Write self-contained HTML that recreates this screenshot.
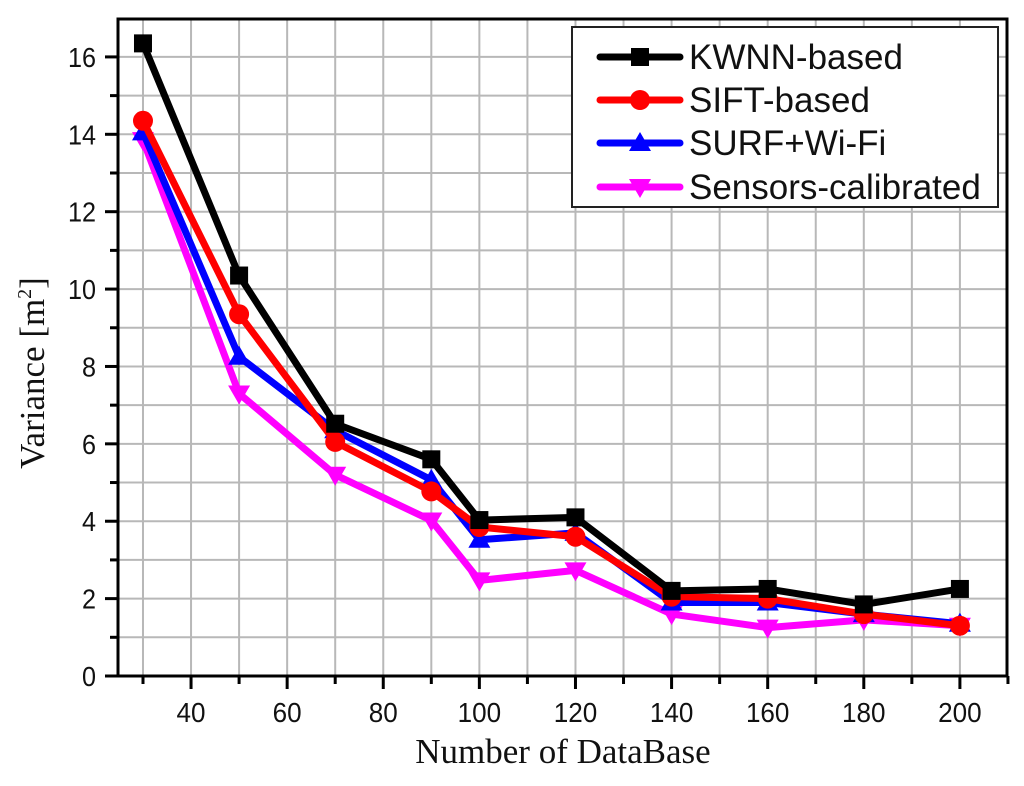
<!DOCTYPE html>
<html><head><meta charset="utf-8"><style>
body{margin:0;background:#fff;}
svg{display:block;}
</style></head><body>
<svg id="chart" width="1024" height="786" xmlns="http://www.w3.org/2000/svg"></svg>
<script>
const xValues=[30,50,70,90,100,120,140,160,180,200];
const seriesNames=["KWNN-based","SIFT-based","SURF+Wi-Fi","Sensors-calibrated"];
const kwnn=[16.35,10.35,6.52,5.6,4.03,4.1,2.2,2.25,1.85,2.25];
const sift=[14.35,9.35,6.05,4.77,3.85,3.6,2.05,2.0,1.6,1.3];
const surf=[14.05,8.25,6.35,5.07,3.52,3.7,1.9,1.9,1.6,1.35];
const sensors=[13.85,7.3,5.2,4.02,2.47,2.73,1.6,1.25,1.45,1.3];
const xTickLabels=[40,60,80,100,120,140,160,180,200];
const yTickLabels=[0,2,4,6,8,10,12,14,16];

const NS="http://www.w3.org/2000/svg";
const svg=document.getElementById('chart');
const L=118,R=1007,T=19,B=676;
const xMin=24.8,xMax=209.8,yMin=0,yMax=16.98;
const sx=v=>L+(v-xMin)/(xMax-xMin)*(R-L);
const sy=v=>B-(v-yMin)/(yMax-yMin)*(B-T);
function mk(tag,attrs,parent){const e=document.createElementNS(NS,tag);for(const k in attrs)e.setAttribute(k,attrs[k]);(parent||svg).appendChild(e);return e;}

const grid=mk('g',{});


for(let v=30;v<=200;v+=10){mk('line',{x1:sx(v),x2:sx(v),y1:T,y2:B,stroke:'#b8b8b8','stroke-width':2},grid);}
for(let v=1;v<=16;v++){mk('line',{x1:L,x2:R,y1:sy(v),y2:sy(v),stroke:'#b8b8b8','stroke-width':2},grid);}

const frame=mk('rect',{x:L,y:T,width:R-L,height:B-T,fill:'none',stroke:'#000','stroke-width':3});



const xt=mk('g',{});


for(let v=30;v<=210;v+=10){const major=xTickLabels.includes(v);mk('line',{x1:sx(v),x2:sx(v),y1:B,y2:B+(major?13:8),stroke:'#000','stroke-width':3},xt);}
xTickLabels.forEach(v=>{const s=String(v);const t=mk('text',{x:sx(v),y:722,'text-anchor':'middle','font-family':'Liberation Sans, sans-serif','font-size':28,fill:'#111',textLength:14.5*s.length,lengthAdjust:'spacingAndGlyphs'},xt);t.textContent=s;

});
const yt=mk('g',{});


for(let v=0;v<=16;v++){const major=v%2===0;mk('line',{x1:L,x2:L-(major?13:8),y1:sy(v),y2:sy(v),stroke:'#000','stroke-width':3},yt);}
yTickLabels.forEach(v=>{const s=String(v);const t=mk('text',{x:96,y:sy(v)+10,'text-anchor':'end','font-family':'Liberation Sans, sans-serif','font-size':28,fill:'#111',textLength:14*s.length,lengthAdjust:'spacingAndGlyphs'},yt);t.textContent=s;

});

const xTitle=mk('text',{x:563,y:763,'text-anchor':'middle','font-family':'Liberation Serif, serif','font-size':35,fill:'#111'});
xTitle.textContent='Number of DataBase';


const yTitle=mk('text',{x:0,y:0,'text-anchor':'middle','font-family':'Liberation Serif, serif','font-size':35,fill:'#111',transform:'translate(44,373) rotate(-90)'});
yTitle.innerHTML='Variance [m<tspan dy="-13" font-size="20">2</tspan><tspan dy="13">]</tspan>';



const colors=['#000000','#ff0000','#0000ff','#ff00ff'];
const data=[kwnn,sift,surf,sensors];
const keys=['kwnn','sift','surf','sensors'];
function marker(kind,x,y,c,g){
  if(kind===0)return mk('rect',{x:x-9,y:y-9,width:18,height:18,fill:c},g);
  if(kind===1)return mk('circle',{cx:x,cy:y,r:10,fill:c},g);
  if(kind===2)return mk('polygon',{points:`${x},${y-11} ${x+11},${y+8} ${x-11},${y+8}`,fill:c},g);
  return mk('polygon',{points:`${x},${y+11} ${x+11},${y-8} ${x-11},${y-8}`,fill:c},g);
}
for(let s=3;s>=0;s--){
  const g=mk('g',{});
  
  
  const pts=xValues.map((x,i)=>sx(x)+','+sy(data[s][i])).join(' ');
  mk('polyline',{points:pts,fill:'none',stroke:colors[s],'stroke-width':7,'stroke-linejoin':'round'},g);
  xValues.forEach((x,i)=>{const m=marker(s,sx(x),sy(data[s][i]),colors[s],g);
    
    });
}

const lg=mk('g',{});


mk('rect',{x:572,y:27,width:426,height:180,fill:'#fff',stroke:'#222','stroke-width':2},lg);
const ly=[57,100,143,187];
seriesNames.forEach((n,s)=>{
  const e=mk('g',{},lg);
  
  
  mk('line',{x1:600,x2:680,y1:ly[s],y2:ly[s],stroke:colors[s],'stroke-width':7,'stroke-linecap':'round'},e);
  marker(s,640,ly[s],colors[s],e);
  const t=mk('text',{x:689,y:ly[s]+12,'font-family':'Liberation Sans, sans-serif','font-size':35,fill:'#111'},e);
  t.textContent=n;
});
</script>
</body></html>
